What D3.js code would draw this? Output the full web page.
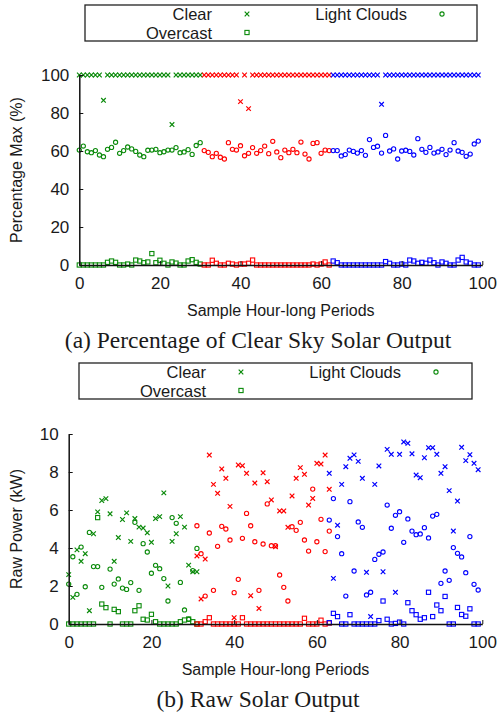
<!DOCTYPE html>
<meta charset="UTF-8">
<head>
<script src="https://cdnjs.cloudflare.com/ajax/libs/d3/7.8.5/d3.min.js"></script>
</head>
<style>
  body { margin: 0; background: #fff; }
  svg text { font-family: "Liberation Sans", Arial, sans-serif; fill: #1a1a1a; }
  svg .caption { font-family: "Liberation Serif", "Times New Roman", serif; }
</style>
<body>
<div id="chart"></div>
<script>
var seriesNames = ["Clear", "Light Clouds", "Overcast"];
var blockColors = ["#0a8a0a", "#ff0000", "#0000ff"];
var xTicks = [0, 20, 40, 60, 80, 100];
var pctTicks = [0, 20, 40, 60, 80, 100];
var rawTicks = [0, 2, 4, 6, 8, 10];

// first sample index of each colour block
var pctStarts = [0, 31, 63];
var rawStarts = [0, 31, 63];

// (a) percentage of clear sky output
var pctClearGreen = [100,100,100,100,100,100,86.7,100,100,100,100,100,100,100,100,100,100,100,100,100,100,100,100,73.9,100,100,100,100,100,100,100];
var pctClearRed = [100,100,100,100,100,100,100,100,100,86.0,100,82.3,100,100,100,100,100,100,100,100,100,100,100,100,100,100,100,100,100,100,100,100];
var pctClearBlue = [100,100,100,100,100,100,100,100,100,100,100,100,84.6,100,100,100,100,100,100,100,100,100,100,100,100,100,100,100,100,100,100,100,100,100,100,100,100];

var pctLightGreen = [60.5,62.6,59.6,59.1,60.2,57.9,57.0,60.9,61.9,64.6,58.8,60.2,62.1,61.1,59.8,57.9,57.0,60.4,60.5,60.9,59.1,59.6,60.5,60.5,61.8,59.1,59.5,60.7,58.2,62.9,64.4];
var pctLightRed = [60.2,59.3,57.0,58.8,56.7,55.8,64.4,60.9,60.5,62.8,57.5,58.8,61.8,58.8,60.2,62.6,58.6,65.1,59.5,56.5,60.5,59.1,60.9,59.1,64.7,58.4,55.8,64.0,64.4,58.8,60.5,60.2];
var pctLightBlue = [60.2,60.2,57.4,58.1,60.5,59.8,58.9,60.2,57.7,66.0,61.9,62.5,58.9,68.2,60.0,61.1,55.8,60.0,60.4,59.8,57.9,66.5,60.9,59.3,61.9,58.9,59.5,60.9,58.1,60.5,64.4,60.0,59.3,57.2,58.4,63.7,65.2];

var pctOverGreen = [0,0,0,0,0,0,0,1.4,2.1,1.4,0,0,0.5,0,2.6,2.1,1.2,1.6,6.0,1.2,2.5,0.9,0,1.6,1.0,0,0,2.1,2.8,1.4,0.5];
var pctOverRed = [0,0,2.5,0.9,0,0,0.9,0.5,0,0.5,0.5,0.9,2.6,0,0,0,0,0,0,0,0,0,0,0,0,0,0,0.5,0,0.5,1.6,0];
var pctOverBlue = [2.1,1.2,0,0,0,0,0,0,0,0,0,0,0,1.8,0.9,0,0,0.5,0,2.6,2.1,0.9,1.4,0.9,2.6,1.2,0,1.6,0.9,0,0,2.6,4.0,1.6,0.9,0,0];

// (b) raw output, kW
var rawClearGreen = [2.6,1.4,3.9,3.3,3.7,0.7,4.75,5.9,6.5,6.6,5.8,3.3,4.55,5.5,5.85,4.35,5.55,5.1,5.05,4.8,4.3,5.55,5.65,6.9,2.0,4.35,4.75,5.65,5.1,3.1,2.75,2.75];
var rawClearRed = [3.58,1.32,3.42,8.89,7.35,6.88,8.16,7.67,6.19,0.33,8.37,8.33,7.93,1.49,7.42,0.82,7.96,7.49,6.53,4.07,5.95,5.95,5.09,6.74,7.67,8.23,7.88,6.26,6.61,8.46,8.42,8.89,7.09];
var rawClearBlue = [7.93,2.40,5.2,7.35,8.28,8.72,8.9,8.56,7.67,2.72,0.39,7.35,8.32,2.75,9.19,8.93,1.67,8.93,9.58,9.51,8.96,7.84,7.7,8.75,9.28,9.28,8.93,7.93,8.28,7.02,4.89,6.47,9.3,8.6,8.91,8.46,8.12];

var rawLightGreen = [2.1,3.54,1.56,4.05,1.96,4.82,3.02,3.02,1.93,null,2.89,2.1,2.37,1.89,1.82,2.18,5.35,1.77,4.23,3.79,2.67,3.09,2.91,2.39,1.21,5.6,5.3,2.19,0.74,0.25,2.81,3.98];
var rawLightRed = [5.17,3.7,1.47,4.79,1.77,4.09,5.14,5.0,4.42,1.65,2.35,4.51,5.82,5.17,4.33,1.77,4.21,6.32,4.12,4.12,2.58,1.93,1.21,5.12,4.93,5.35,4.42,3.84,7.1,4.33,5.51,3.81,4.89];
var rawLightBlue = [5.47,6.6,4.6,3.7,1.47,6.44,2.79,5.37,5.09,1.53,1.67,3.4,3.67,3.79,6.26,5.04,5.72,5.91,4.3,5.53,4.89,4.7,4.74,5.07,4.53,5.68,5.77,2.14,2.79,2.3,4.02,3.72,3.53,2.7,4.6,2.09,1.79];

var rawOverGreen = [0,0,0,0,0,0,0,5.6,1.05,0.86,0,0.77,0.65,0,0,0,0.7,0.96,0.25,0.21,0.51,0.12,0,0,0,0,0,0.12,0.21,0.26,0.12,0];
var rawOverRed = [0,0,0.12,0.33,0,0,0,0,0,0,0,0.33,0,0,0,0,0,0,0,0,0,0,0,0,0,0,0.3,0,0,0,0.2,0,0.05];
var rawOverBlue = [0.07,0.56,0.39,0,0,0.49,0,0,0,0,0,0,0.18,1.21,0.25,0,0.03,0.1,0,1.12,0.7,0.49,0.25,0.33,1.67,0.39,1.0,0.7,1.45,0,0,0.87,0.5,0.41,0.8,0,0];

var W = 498, H = 721;
var svg = d3.select("#chart").append("svg")
  .attr("width", W)
  .attr("height", H);
svg.append("rect").attr("width", W).attr("height", H).attr("fill", "#fff");

var xs = 2.3; // half size of the x marker

function mark(g, type, cx, cy, color) {
  if (type == 0) {
    g.append("path")
      .attr("d", "M" + (-xs) + "," + (-xs) + "L" + xs + "," + xs + "M" + (-xs) + "," + xs + "L" + xs + "," + (-xs))
      .attr("transform", "translate(" + cx + "," + cy + ")")
      .attr("stroke", color).attr("stroke-width", 1.2).attr("fill", "none");
  } else if (type == 1) {
    g.append("circle").attr("cx", cx).attr("cy", cy).attr("r", 2.1)
      .attr("stroke", color).attr("stroke-width", 1.1).attr("fill", "none");
  } else {
    g.append("rect").attr("x", cx - 2.1).attr("y", cy - 2.1).attr("width", 4.2).attr("height", 4.2)
      .attr("stroke", color).attr("stroke-width", 1.1).attr("fill", "none");
  }
}

function drawPanel(cfg) {
  var g = svg.append("g");
  var x = d3.scaleLinear().domain([0, 100]).range([cfg.left, 482.3]);
  var y = d3.scaleLinear().domain([0, cfg.yMax]).range([cfg.bottom, cfg.top]);

  // legend
  var lg = g.append("g").attr("transform", "translate(" + cfg.legend[0] + "," + cfg.legend[1] + ")");
  lg.append("rect").attr("x", 0).attr("y", 0).attr("width", cfg.legend[2]).attr("height", 36)
    .attr("fill", "none").attr("stroke", "#222").attr("stroke-width", 1.3);
  var entries = [[127, 15, 162, 9], [322, 15, 357, 9], [127, 33.6, 162, 27.5]];
  entries.forEach(function(e, i) {
    lg.append("text").attr("x", e[0]).attr("y", e[1]).attr("text-anchor", "end")
      .attr("font-size", 16.5).text(seriesNames[i]);
    mark(lg, i, e[2], e[3], blockColors[0]);
  });

  // points
  cfg.blocks.forEach(function(b, bi) {
    var pg = g.append("g");
    b.series.forEach(function(vals, si) {
      vals.forEach(function(v, i) {
        if (v == null) return;
        mark(pg, si, x(b.start + i), y(v), blockColors[bi]);
      });
    });
  });

  // axes
  var ax = g.append("g").attr("transform", "translate(0," + cfg.bottom + ")")
    .call(d3.axisBottom(x).tickValues(xTicks).tickSizeInner(-4).tickSizeOuter(0).tickPadding(12));
  var ay = g.append("g").attr("transform", "translate(" + cfg.left + ",0)")
    .call(d3.axisLeft(y).tickValues(cfg.yTicks).tickSizeInner(-4).tickSizeOuter(0).tickPadding(10));
  [ax, ay].forEach(function(a) {
    a.attr("font-size", 17).attr("font-family", null);
    a.select(".domain").attr("stroke", "#111").attr("stroke-width", 1.5);
    a.selectAll(".tick line").attr("stroke", "#111");
    a.selectAll(".tick text").attr("fill", "#1a1a1a");
  });

  g.append("text")
    .attr("x", (cfg.left + 482.3) / 2).attr("y", cfg.bottom + 51)
    .attr("text-anchor", "middle").attr("font-size", 16)
    .text("Sample Hour-long Periods");
  g.append("text")
    .attr("transform", "translate(22," + (cfg.top + cfg.bottom) / 2 + ") rotate(-90)")
    .attr("text-anchor", "middle").attr("font-size", 16)
    .text(cfg.yTitle);
  g.append("text").attr("class", "caption")
    .attr("x", 258).attr("y", cfg.captionY)
    .attr("text-anchor", "middle").attr("font-size", 23.5)
    .text(cfg.caption);
}

drawPanel({
  left: 79.3, top: 75, bottom: 265, yMax: 100, yTicks: pctTicks,
  yTitle: "Percentage Max (%)",
  caption: "(a) Percentage of Clear Sky Solar Output", captionY: 348,
  legend: [85, 5, 392],
  blocks: [
    {start: pctStarts[0], series: [pctClearGreen, pctLightGreen, pctOverGreen]},
    {start: pctStarts[1], series: [pctClearRed, pctLightRed, pctOverRed]},
    {start: pctStarts[2], series: [pctClearBlue, pctLightBlue, pctOverBlue]}
  ]
});

drawPanel({
  left: 68.7, top: 434, bottom: 624, yMax: 10, yTicks: rawTicks,
  yTitle: "Raw Power (kW)",
  caption: "(b) Raw Solar Output", captionY: 707,
  legend: [79, 363, 393],
  blocks: [
    {start: rawStarts[0], series: [rawClearGreen, rawLightGreen, rawOverGreen]},
    {start: rawStarts[1], series: [rawClearRed, rawLightRed, rawOverRed]},
    {start: rawStarts[2], series: [rawClearBlue, rawLightBlue, rawOverBlue]}
  ]
});
</script>
</body>
